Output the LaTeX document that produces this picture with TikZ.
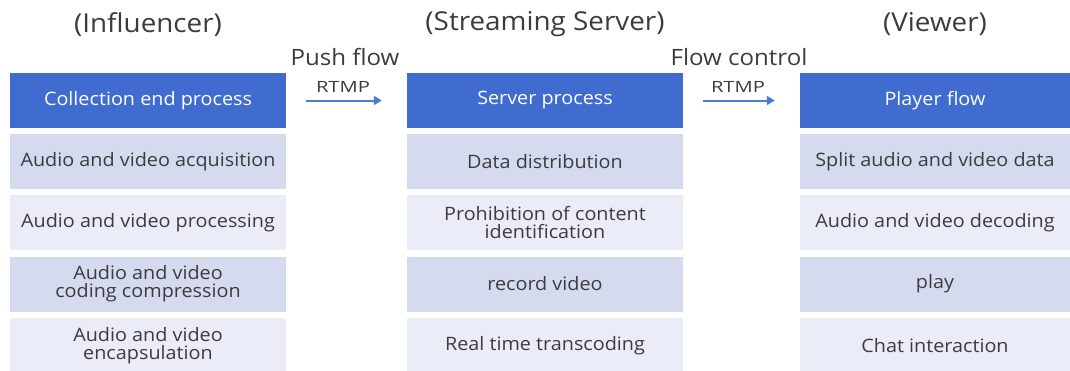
\documentclass[tikz,border=0pt]{standalone}
\usepackage{fontspec}
\setmainfont{Open Sans}[FakeStretch=1.07]
\newfontfamily\rtmpfont{Open Sans}[FakeStretch=1.3]
\usetikzlibrary{arrows.meta}
\definecolor{hdblue}{RGB}{63,108,206}
\definecolor{rowdark}{RGB}{213,218,238}
\definecolor{rowlight}{RGB}{234,237,247}
\definecolor{txtgray}{RGB}{60,60,64}
\definecolor{arrowblue}{RGB}{74,124,208}
\tikzset{
  cell/.style={minimum width=276pt, minimum height=55pt, inner sep=0pt, align=center,
    text=txtgray, font=\fontsize{18.5}{18}\selectfont},
  hdcell/.style={cell, fill=hdblue, text=white},
  darkcell/.style={cell, fill=rowdark},
  lightcell/.style={cell, fill=rowlight},
  title/.style={font=\fontsize{26}{28}\selectfont, text=txtgray},
  flowlabel/.style={font=\fontsize{22.5}{23}\selectfont, text=txtgray},
  protolabel/.style={font=\rtmpfont\fontsize{15.5}{16}\selectfont, text=txtgray},
  flowarrow/.style={draw=arrowblue, line width=2pt, -{Triangle[length=8pt,width=9pt]}}
}
\begin{document}
\begin{tikzpicture}[x=1pt,y=-1pt]
\useasboundingbox (0,0) rectangle (1070,370);
% titles
\node[title] (t1) at (148,24.5) {(Influencer)};
\node[title] (t2) at (545,24.5) {(Streaming Server)};
\node[title] (t3) at (935,24.5) {(Viewer)};
% column 1
\node[hdcell] (a0) at (148,100.5) {Collection end process};
\node[darkcell] (a1) at (148,161.5) {Audio and video acquisition};
\node[lightcell] (a2) at (148,222.5) {Audio and video processing};
\node[darkcell] (a3) at (148,284) {Audio and video\\coding compression};
\node[lightcell] (a4) at (148,345.5) {Audio and video\\encapsulation};
% column 2
\node[hdcell] (b0) at (545,100.5) {Server process};
\node[darkcell] (b1) at (545,161.5) {Data distribution};
\node[lightcell] (b2) at (545,222.5) {Prohibition of content\\identification};
\node[darkcell] (b3) at (545,284) {record video};
\node[lightcell] (b4) at (545,345.5) {Real time transcoding};
% column 3
\node[hdcell,minimum width=270pt] (c0) at (935,100.5) {Player flow};
\node[darkcell,minimum width=270pt] (c1) at (935,161.5) {Split audio and video data};
\node[lightcell,minimum width=270pt] (c2) at (935,222.5) {Audio and video decoding};
\node[darkcell,minimum width=270pt] (c3) at (935,284) {play};
\node[lightcell,minimum width=270pt] (c4) at (935,345.5) {Chat interaction};
% arrows
\draw[flowarrow, shorten <=20pt, shorten >=25pt] (a0.east) -- (b0.west);
\draw[flowarrow, shorten <=20pt, shorten >=25pt] (b0.east) -- (c0.west);
\node[flowlabel] (p1) at (345,57) {Push flow};
\node[protolabel] (r1) at (343,87) {RTMP};
\node[flowlabel] (p2) at (739,57) {Flow control};
\node[protolabel] (r2) at (738,87) {RTMP};
\end{tikzpicture}
\end{document}
